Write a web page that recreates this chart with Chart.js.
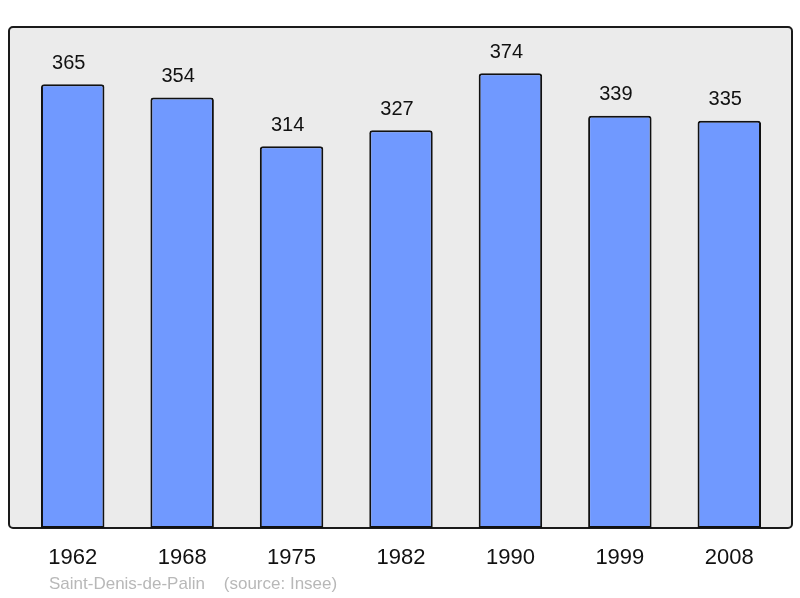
<!DOCTYPE html>
<html>
<head>
<meta charset="utf-8">
<script src="https://cdn.jsdelivr.net/npm/chart.js@4/dist/chart.umd.min.js"></script>
<style>
html,body{margin:0;padding:0;background:#fff;}
#wrap{width:800px;height:598px;position:relative;}
</style>
</head>
<body>
<div id="wrap"><canvas id="c" width="800" height="598"></canvas></div>
<script>
const years = ["1962","1968","1975","1982","1990","1999","2008"];
const population = [365,354,314,327,374,339,335];
const subtitle = "Saint-Denis-de-Palin    (source: Insee)";

const framePlugin = {
  id: 'frame',
  beforeDraw(chart) {
    const ctx = chart.ctx, a = chart.chartArea;
    const x0 = a.left - 9, x1 = a.right + 8, y0 = a.top, y1 = a.bottom;
    ctx.save();
    ctx.beginPath();
    ctx.roundRect(x0, y0, x1 - x0, y1 - y0, 4);
    ctx.fillStyle = '#ebebeb';
    ctx.fill();
    ctx.lineWidth = 2;
    ctx.strokeStyle = '#1a1a1a';
    ctx.stroke();
    ctx.restore();
  },
  afterDatasetsDraw(chart) {
    const ctx = chart.ctx;
    const meta = chart.getDatasetMeta(0);
    ctx.save();
    ctx.font = '20px "Liberation Sans", Arial, sans-serif';
    ctx.fillStyle = '#111';
    ctx.textAlign = 'center';
    ctx.textBaseline = 'middle';
    meta.data.forEach((bar, i) => {
      ctx.fillText(String(population[i]), bar.x - 4, bar.y - 21);
    });
    ctx.font = '17px "Liberation Sans", Arial, sans-serif';
    ctx.fillStyle = '#b8b8b8';
    ctx.textAlign = 'left';
    ctx.fillText(subtitle, 49, 584);
    ctx.restore();
  }
};

new Chart(document.getElementById('c'), {
  type: 'bar',
  data: {
    labels: years,
    datasets: [{
      data: population,
      backgroundColor: '#7099ff',
      borderColor: '#111',
      borderWidth: 2,
      borderSkipped: false,
      borderRadius: {topLeft: 3, topRight: 3, bottomLeft: 0, bottomRight: 0},
      barPercentage: 0.58,
      categoryPercentage: 1.0
    }]
  },
  options: {
    responsive: false,
    animation: false,
    devicePixelRatio: 1,
    layout: { padding: { left: 18, right: 16, top: 27, bottom: 0 } },
    plugins: { legend: { display: false }, tooltip: { enabled: false }, title: { display: false } },
    scales: {
      x: {
        grid: { display: false, drawTicks: false },
        border: { display: false },
        ticks: {
          padding: 17,
          color: '#111',
          font: { size: 22, family: '"Liberation Sans", Arial, sans-serif' }
        },
        afterFit(scale) { scale.height = 70; }
      },
      y: {
        display: false,
        min: 0,
        max: 412
      }
    }
  },
  plugins: [framePlugin]
});
</script>
</body>
</html>
